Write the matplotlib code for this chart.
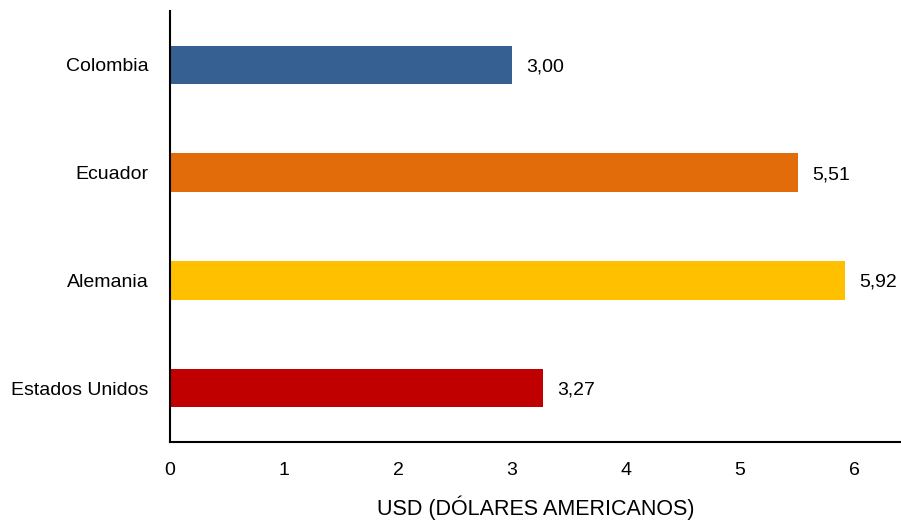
import matplotlib
matplotlib.use("Agg")
import matplotlib.pyplot as plt

plt.rcParams["font.family"] = ["Liberation Sans", "DejaVu Sans"]

countries = ["Colombia", "Ecuador", "Alemania", "Estados Unidos"]
values = [3.00, 5.51, 5.92, 3.27]
colors = ["#376092", "#E36C0A", "#FFC000", "#C00000"]
xticks = [0, 1, 2, 3, 4, 5, 6]

fig = plt.figure(figsize=(9.01, 5.21), dpi=100)
ax = fig.add_axes([170 / 901, 1 - 442 / 521, (901 - 170) / 901, (442 - 11) / 521])

ypos = list(range(len(countries)))
ax.barh(ypos, values, height=0.355, color=colors)
for y, v in zip(ypos, values):
    ax.annotate(f"{v:.2f}".replace(".", ","), (v, y), xytext=(10.5, -1.5),
                textcoords="offset points", va="center", ha="left", fontsize=14)

ax.set_ylim(3.5, -0.5)
ax.set_xlim(0, 731 / 114)
ax.set_yticks(ypos)
ax.set_yticklabels(countries, fontsize=14)
for lbl in ax.get_yticklabels():
    lbl.set_verticalalignment("center_baseline")
ax.set_xticks(xticks)
ax.set_xticklabels([str(t) for t in xticks], fontsize=14)
ax.tick_params(axis="x", length=0, pad=14.5)
ax.tick_params(axis="y", length=0, pad=15.5)
for s in ["top", "right"]:
    ax.spines[s].set_visible(False)
for s in ["left", "bottom"]:
    ax.spines[s].set_linewidth(1.5)
ax.set_xlabel("USD (DÓLARES AMERICANOS)", fontsize=15.5, labelpad=12)

fig.savefig("out.png", dpi=100)
